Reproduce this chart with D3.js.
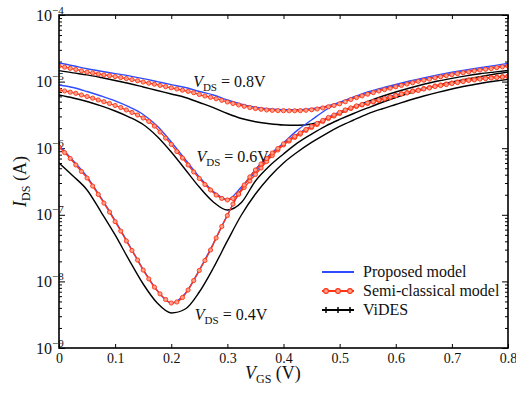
<!DOCTYPE html>
<html>
<head>
<meta charset="utf-8">
<script src="https://cdn.jsdelivr.net/npm/d3@7"></script>
<style>
body { margin: 0; background: #fff; }
text { font-family: "Liberation Serif", "Times New Roman", serif; fill: #111; }
</style>
</head>
<body>
<div id="chart"></div>
<script>
// gate voltage sweeps (V)
const vgsFine = [0, 0.01, 0.02, 0.03, 0.04, 0.05, 0.06, 0.07, 0.08, 0.09,
    0.10, 0.11, 0.12, 0.13, 0.14, 0.15, 0.16, 0.17, 0.18, 0.19,
    0.20, 0.21, 0.22, 0.23, 0.24, 0.25, 0.26, 0.27, 0.28, 0.29,
    0.30, 0.31, 0.32, 0.33, 0.34, 0.35, 0.36, 0.37, 0.38, 0.39,
    0.40, 0.41, 0.42, 0.43, 0.44, 0.45, 0.46, 0.47, 0.48, 0.49,
    0.50, 0.51, 0.52, 0.53, 0.54, 0.55, 0.56, 0.57, 0.58, 0.59,
    0.60, 0.61, 0.62, 0.63, 0.64, 0.65, 0.66, 0.67, 0.68, 0.69,
    0.70, 0.71, 0.72, 0.73, 0.74, 0.75, 0.76, 0.77, 0.78, 0.79, 0.80];
const vgsCoarse = [0, 0.025, 0.05, 0.075, 0.1, 0.125, 0.15, 0.175, 0.2, 0.225,
    0.25, 0.275, 0.3, 0.325, 0.35, 0.375, 0.4, 0.425, 0.45, 0.475,
    0.5, 0.525, 0.55, 0.575, 0.6, 0.625, 0.65, 0.675, 0.7, 0.725,
    0.75, 0.775, 0.8];

// Semi-classical model (A), on vgsFine
const semi08 = [1.71e-5, 1.65e-5, 1.58e-5, 1.52e-5, 1.45e-5, 1.39e-5, 1.35e-5, 1.30e-5, 1.26e-5, 1.23e-5,
    1.19e-5, 1.15e-5, 1.11e-5, 1.07e-5, 1.03e-5, 9.86e-6, 9.48e-6, 9.14e-6, 8.77e-6, 8.41e-6,
    8.07e-6, 7.74e-6, 7.43e-6, 7.14e-6, 6.81e-6, 6.40e-6, 6.08e-6, 5.81e-6, 5.52e-6, 5.24e-6,
    4.94e-6, 4.69e-6, 4.46e-6, 4.26e-6, 4.08e-6, 3.94e-6, 3.84e-6, 3.75e-6, 3.70e-6, 3.67e-6,
    3.66e-6, 3.65e-6, 3.65e-6, 3.66e-6, 3.71e-6, 3.78e-6, 3.88e-6, 4.02e-6, 4.19e-6, 4.38e-6,
    4.64e-6, 4.98e-6, 5.38e-6, 5.75e-6, 6.10e-6, 6.47e-6, 6.84e-6, 7.23e-6, 7.59e-6, 7.96e-6,
    8.36e-6, 8.77e-6, 9.20e-6, 9.62e-6, 1.01e-5, 1.05e-5, 1.09e-5, 1.14e-5, 1.18e-5, 1.23e-5,
    1.27e-5, 1.32e-5, 1.36e-5, 1.40e-5, 1.45e-5, 1.49e-5, 1.53e-5, 1.57e-5, 1.62e-5, 1.67e-5, 1.71e-5];
const semi06 = [7.48e-6, 7.23e-6, 6.93e-6, 6.67e-6, 6.29e-6, 5.97e-6, 5.64e-6, 5.30e-6, 4.99e-6, 4.69e-6,
    4.38e-6, 4.08e-6, 3.75e-6, 3.44e-6, 3.15e-6, 2.84e-6, 2.52e-6, 2.15e-6, 1.75e-6, 1.42e-6,
    1.14e-6, 8.91e-7, 7.13e-7, 5.60e-7, 4.40e-7, 3.51e-7, 2.85e-7, 2.36e-7, 1.98e-7, 1.76e-7,
    1.67e-7, 1.76e-7, 2.05e-7, 2.57e-7, 3.22e-7, 4.03e-7, 5.05e-7, 6.31e-7, 7.76e-7, 9.40e-7,
    1.12e-6, 1.28e-6, 1.45e-6, 1.63e-6, 1.85e-6, 2.05e-6, 2.27e-6, 2.52e-6, 2.79e-6, 3.04e-6,
    3.32e-6, 3.68e-6, 3.94e-6, 4.23e-6, 4.46e-6, 4.69e-6, 4.94e-6, 5.20e-6, 5.48e-6, 5.77e-6,
    6.18e-6, 6.55e-6, 6.86e-6, 7.23e-6, 7.48e-6, 7.87e-6, 8.15e-6, 8.59e-6, 8.89e-6, 9.20e-6,
    9.53e-6, 9.86e-6, 1.02e-5, 1.06e-5, 1.08e-5, 1.11e-5, 1.13e-5, 1.15e-5, 1.17e-5, 1.19e-5, 1.21e-5];
const semi04 = [1.04e-6, 8.6e-7, 7.0e-7, 5.6e-7, 4.47e-7, 3.57e-7, 2.70e-7, 2.02e-7, 1.50e-7, 1.10e-7,
    7.9e-8, 5.7e-8, 4.05e-8, 2.91e-8, 2.09e-8, 1.48e-8, 1.09e-8, 8.2e-9, 6.5e-9, 5.35e-9,
    4.74e-9, 4.91e-9, 5.73e-9, 7.43e-9, 1.03e-8, 1.46e-8, 2.06e-8, 2.96e-8, 4.49e-8, 6.67e-8,
    9.75e-8, 1.45e-7, 2.05e-7, 2.80e-7, 3.70e-7, 4.71e-7, 5.79e-7, 7.0e-7, 8.47e-7, 9.89e-7,
    1.16e-6, 1.33e-6, 1.50e-6, 1.69e-6, 1.91e-6, 2.12e-6, 2.35e-6, 2.61e-6, 2.89e-6, 3.15e-6,
    3.44e-6, 3.75e-6, 4.02e-6, 4.31e-6, 4.53e-6, 4.78e-6, 5.02e-6, 5.30e-6, 5.57e-6, 5.87e-6,
    6.18e-6, 6.52e-6, 6.75e-6, 7.10e-6, 7.35e-6, 7.74e-6, 8.02e-6, 8.43e-6, 8.73e-6, 9.04e-6,
    9.36e-6, 9.69e-6, 1.00e-5, 1.04e-5, 1.06e-5, 1.09e-5, 1.11e-5, 1.13e-5, 1.15e-5, 1.17e-5, 1.19e-5];

// Proposed model (A), on vgsCoarse
const prop08 = [1.90e-5, 1.73e-5, 1.56e-5, 1.43e-5, 1.32e-5, 1.22e-5, 1.11e-5, 1.00e-5, 9.00e-6, 8.15e-6,
    7.10e-6, 6.30e-6, 5.30e-6, 4.60e-6, 4.12e-6, 3.87e-6, 3.78e-6, 3.77e-6, 3.92e-6, 4.25e-6,
    4.85e-6, 5.87e-6, 7.00e-6, 8.00e-6, 9.05e-6, 1.02e-5, 1.14e-5, 1.26e-5, 1.38e-5, 1.50e-5,
    1.62e-5, 1.74e-5, 1.88e-5];
const prop06 = [8.89e-6, 8.15e-6, 7.10e-6, 6.08e-6, 5.12e-6, 4.16e-6, 3.21e-6, 2.15e-6, 1.24e-6, 6.76e-7,
    3.70e-7, 2.24e-7, 1.70e-7, 2.61e-7, 4.40e-7, 7.38e-7, 1.20e-6, 1.87e-6, 2.65e-6, 3.75e-6,
    4.85e-6, 5.77e-6, 6.70e-6, 7.66e-6, 8.65e-6, 9.75e-6, 1.09e-5, 1.20e-5, 1.32e-5, 1.43e-5,
    1.54e-5, 1.65e-5, 1.78e-5];
const prop04 = [1.10e-6, 6.53e-7, 3.70e-7, 1.79e-7, 8.20e-8, 3.52e-8, 1.51e-8, 7.30e-9, 4.74e-9, 6.58e-9,
    1.48e-8, 3.71e-8, 9.93e-8, 2.44e-7, 4.79e-7, 7.91e-7, 1.18e-6, 1.63e-6, 2.15e-6, 2.79e-6,
    3.50e-6, 4.23e-6, 4.85e-6, 5.53e-6, 6.29e-6, 7.05e-6, 7.87e-6, 8.73e-6, 9.53e-6, 1.04e-5,
    1.11e-5, 1.16e-5, 1.21e-5];

// ViDES (A), on vgsCoarse
const vides08 = [1.46e-5, 1.35e-5, 1.26e-5, 1.15e-5, 1.04e-5, 9.36e-6, 8.30e-6, 7.35e-6, 6.52e-6, 5.77e-6,
    4.85e-6, 4.08e-6, 3.32e-6, 2.79e-6, 2.50e-6, 2.33e-6, 2.23e-6, 2.21e-6, 2.31e-6, 2.70e-6,
    3.32e-6, 4.16e-6, 5.02e-6, 5.97e-6, 6.98e-6, 8.02e-6, 9.11e-6, 1.02e-5, 1.12e-5, 1.22e-5,
    1.31e-5, 1.39e-5, 1.47e-5];
const vides06 = [6.29e-6, 5.68e-6, 5.02e-6, 4.31e-6, 3.62e-6, 2.94e-6, 2.27e-6, 1.50e-6, 8.77e-7, 4.79e-7,
    2.61e-7, 1.56e-7, 1.18e-7, 1.53e-7, 3.22e-7, 5.41e-7, 8.18e-7, 1.20e-6, 1.63e-6, 2.15e-6,
    2.70e-6, 3.32e-6, 4.02e-6, 4.85e-6, 5.77e-6, 6.75e-6, 7.74e-6, 8.79e-6, 9.86e-6, 1.09e-5,
    1.19e-5, 1.29e-5, 1.39e-5];
const vides04 = [6.0e-7, 3.83e-7, 2.36e-7, 1.10e-7, 4.98e-8, 2.09e-8, 9.14e-9, 4.74e-9, 3.36e-9, 3.85e-9,
    6.93e-9, 1.59e-8, 4.05e-8, 9.93e-8, 2.05e-7, 3.70e-7, 6.0e-7, 8.77e-7, 1.22e-6, 1.63e-6,
    2.12e-6, 2.65e-6, 3.27e-6, 3.88e-6, 4.53e-6, 5.30e-6, 6.08e-6, 6.90e-6, 7.74e-6, 8.59e-6,
    9.36e-6, 1.01e-5, 1.08e-5];

const xTicks = [0, 0.1, 0.2, 0.3, 0.4, 0.5, 0.6, 0.7, 0.8];
const yDecades = [1e-9, 1e-8, 1e-7, 1e-6, 1e-5, 1e-4];
const yExponents = ["\u22129", "\u22128", "\u22127", "\u22126", "\u22125", "\u22124"];
const vdsLabels = [
    {text: "0.8V", vgs: 0.239, ids: 8.3e-6},
    {text: "0.6V", vgs: 0.245, ids: 6.2e-7},
    {text: "0.4V", vgs: 0.242, ids: 2.6e-9}
];
const legendNames = ["Proposed model", "Semi-classical model", "ViDES"];

const blue = "#2f4dff", red = "#ff3414", black = "#000";
const serif = '"Liberation Serif", "Times New Roman", serif';
const width = 516, height = 393;
const plot = {left: 59, right: 508, top: 15, bottom: 348};

const svg = d3.select("#chart").append("svg")
    .attr("width", width).attr("height", height)
    .style("font-family", serif);

const x = d3.scaleLinear().domain([0, 0.8]).range([plot.left, plot.right]);
const y = d3.scaleLog().domain([1e-9, 1e-4]).range([plot.bottom, plot.top]);

svg.append("defs").append("clipPath").attr("id", "clip")
    .append("rect")
    .attr("x", plot.left).attr("y", plot.top)
    .attr("width", plot.right - plot.left).attr("height", plot.bottom - plot.top);

// axes: ticks point inward on all four sides
const minorTicks = y.ticks().filter(v => !yDecades.some(d => Math.abs(d - v) / d < 1e-6));

function styleAxis(g) {
    g.attr("font-family", null).style("font-family", serif);
    g.select(".domain").remove();
    g.selectAll("line").attr("stroke", "#000").attr("stroke-width", 1);
}

svg.append("g").attr("transform", `translate(0,${plot.bottom})`)
    .call(d3.axisBottom(x).tickValues(xTicks).tickSizeInner(-4).tickSizeOuter(0).tickPadding(5)
        .tickFormat(d => d === 0 ? "0" : d3.format(".1f")(d)))
    .call(styleAxis)
    .call(g => g.selectAll("text").attr("font-size", 14).attr("fill", "#111")
        .style("font-family", serif));

svg.append("g").attr("transform", `translate(0,${plot.top})`)
    .call(d3.axisTop(x).tickValues(xTicks).tickSizeInner(-4).tickSizeOuter(0).tickFormat(""))
    .call(styleAxis);

[[d3.axisLeft, plot.left], [d3.axisRight, plot.right]].forEach(([axisFn, pos]) => {
    svg.append("g").attr("transform", `translate(${pos},0)`)
        .call(axisFn(y).tickValues(yDecades).tickSizeInner(-6).tickSizeOuter(0).tickFormat(""))
        .call(styleAxis);
    svg.append("g").attr("transform", `translate(${pos},0)`)
        .call(axisFn(y).tickValues(minorTicks).tickSizeInner(-3).tickSizeOuter(0).tickFormat(""))
        .call(styleAxis);
});

// decade labels 10^n
const yLab = svg.append("g").selectAll("text").data(yDecades).join("text")
    .attr("x", 36).attr("y", d => y(d) + 5.5)
    .attr("font-size", 16);
yLab.append("tspan").text("10");
yLab.append("tspan").attr("font-size", 11).attr("dy", -7).text((d, i) => yExponents[i]);

// curves
const line = (xs) => d3.line()
    .x((d, i) => x(xs[i]))
    .y(d => y(d))
    .curve(d3.curveMonotoneX);

const curves = svg.append("g").attr("clip-path", "url(#clip)");

[vides08, vides06, vides04].forEach(s => {
    curves.append("path").datum(s).attr("d", line(vgsCoarse))
        .attr("fill", "none").attr("stroke", black).attr("stroke-width", 1.4);
});
[prop08, prop06, prop04].forEach(s => {
    curves.append("path").datum(s).attr("d", line(vgsCoarse))
        .attr("fill", "none").attr("stroke", blue).attr("stroke-width", 1.4);
});
[semi08, semi06, semi04].forEach(s => {
    curves.append("path").datum(s).attr("d", line(vgsFine))
        .attr("fill", "none").attr("stroke", red).attr("stroke-width", 1.3);
    curves.append("g").selectAll("circle").data(s).join("circle")
        .attr("cx", (d, i) => x(vgsFine[i])).attr("cy", d => y(d))
        .attr("r", 2.1)
        .attr("fill", "#ffa08c").attr("stroke", red).attr("stroke-width", 0.9);
});

// frame
svg.append("rect")
    .attr("x", plot.left).attr("y", plot.top)
    .attr("width", plot.right - plot.left).attr("height", plot.bottom - plot.top)
    .attr("fill", "none").attr("stroke", "#000").attr("stroke-width", 1.6);

// V_DS annotations
vdsLabels.forEach(l => {
    const t = svg.append("text")
        .attr("x", x(l.vgs)).attr("y", y(l.ids))
        .attr("font-size", 16);
    t.append("tspan").attr("font-style", "italic").text("V");
    t.append("tspan").attr("font-size", 11).attr("dy", 4).text("DS");
    t.append("tspan").attr("dy", -4).text(" = " + l.text);
});

// axis titles
const xTitle = svg.append("text").attr("x", 245).attr("y", 379).attr("font-size", 18);
xTitle.append("tspan").attr("font-style", "italic").text("V");
xTitle.append("tspan").attr("font-size", 12).attr("dy", 4).text("GS");
xTitle.append("tspan").attr("dy", -4).text(" (V)");

const yTitle = svg.append("text")
    .attr("transform", `translate(26,${(plot.top + plot.bottom) / 2}) rotate(-90)`)
    .attr("text-anchor", "middle").attr("font-size", 18);
yTitle.append("tspan").attr("font-style", "italic").text("I");
yTitle.append("tspan").attr("font-size", 12).attr("dy", 4).text("DS");
yTitle.append("tspan").attr("dy", -4).text(" (A)");

// legend
const legend = svg.append("g").attr("transform", "translate(322,272)");
const rows = legend.selectAll("g").data(legendNames).join("g")
    .attr("transform", (d, i) => `translate(0,${i * 19})`);
const legendColors = [blue, red, black];
rows.append("line").attr("x1", 0).attr("x2", 32).attr("y1", 0).attr("y2", 0)
    .attr("stroke", (d, i) => legendColors[i]).attr("stroke-width", 2);
rows.filter((d, i) => i === 1).selectAll("circle").data([4, 16, 28]).join("circle")
    .attr("cx", d => d).attr("cy", 0).attr("r", 2.4)
    .attr("fill", "#ffa08c").attr("stroke", red).attr("stroke-width", 1.1);
rows.filter((d, i) => i === 2).selectAll("path").data([4, 16, 28]).join("path")
    .attr("d", d => `M${d - 3},0H${d + 3}M${d},-3V3`)
    .attr("stroke", black).attr("stroke-width", 1.5);
rows.append("text").attr("x", 41).attr("y", 5).attr("font-size", 16).text(d => d);
</script>
</body>
</html>
